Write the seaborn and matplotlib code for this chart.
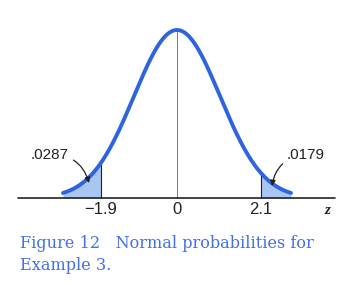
import numpy as np
import pandas as pd
import matplotlib
matplotlib.use("Agg")
import matplotlib.pyplot as plt
import seaborn as sns

# values
tick_values = [-1.9, 0.0, 2.1]
tick_labels = ["\u22121.9", "0", "2.1"]
tail_probs = [".0287", ".0179"]
curve_range = [-2.85, 2.85]
curve_sigma = 1.075
caption_lines = ["Figure 12   Normal probabilities for", "Example 3."]

sns.set_style("white")
plt.rcParams['font.family'] = ['Liberation Sans', 'DejaVu Sans']

blue = "#2f64e0"
fill = "#a9c6f2"

z = np.linspace(curve_range[0], curve_range[1], 400)
dens = np.exp(-z**2 / (2 * curve_sigma**2)) / (curve_sigma * np.sqrt(2 * np.pi))
df = pd.DataFrame({"z": z, "density": dens})

fig = plt.figure(figsize=(3.53, 2.96), dpi=100)
ax = fig.add_axes([0, 0, 1, 1])
scale = 168 / dens.max()
ax.set_xlim(-177 / 40, (353 - 177) / 40)
ax.set_ylim(-98 / scale, (296 - 98) / scale)
ax.axis("off")

left = df[df.z <= tick_values[0]]
right = df[df.z >= tick_values[2]]
ax.fill_between(left.z, 0, left.density, color=fill, lw=0)
ax.fill_between(right.z, 0, right.density, color=fill, lw=0)

def pdf(v):
    return np.exp(-v**2 / (2 * curve_sigma**2)) / (curve_sigma * np.sqrt(2 * np.pi))

for v in tick_values:
    ax.plot([v, v], [0, pdf(v)], color="#666666" if v == 0 else "#222222",
            lw=0.8 if v != 0 else 0.6, zorder=2)

sns.lineplot(data=df, x="z", y="density", ax=ax, color=blue, lw=2.8, zorder=3)

# axis line
ax.plot([18 / 40 - 177 / 40, 335 / 40 - 177 / 40], [0, 0], color="#222222", lw=1.2, zorder=4)

for v, lab in zip(tick_values, tick_labels):
    ax.text(v, -12 / scale, lab, ha="center", va="center", fontsize=12, color="#222222")
ax.text((327 - 177) / 40, -12 / scale, "z", ha="center", va="center", fontsize=11,
        style="italic", fontweight="bold", family="Liberation Serif", color="#222222")

# annotations
ax.annotate(tail_probs[0], xy=((89 - 177) / 40, 15 / scale),
            xytext=((50 - 177) / 40, 43 / scale), ha="center", va="center",
            fontsize=11, color="#222222",
            arrowprops=dict(arrowstyle="-|>", color="#222222", lw=0.9,
                            connectionstyle="arc3,rad=-0.4", mutation_scale=8,
                            shrinkA=1, shrinkB=0))
ax.annotate(tail_probs[1], xy=((272 - 177) / 40, 12 / scale),
            xytext=((306 - 177) / 40, 43 / scale), ha="center", va="center",
            fontsize=11, color="#222222",
            arrowprops=dict(arrowstyle="-|>", color="#222222", lw=0.9,
                            connectionstyle="arc3,rad=0.4", mutation_scale=8,
                            shrinkA=1, shrinkB=0))

# caption
for i, line in enumerate(caption_lines):
    fig.text(20 / 353, 1 - (244 + 22 * i) / 296, line, ha="left", va="center",
             fontsize=11.6, color="#4470e6", family="DejaVu Serif")

fig.savefig("out.png", dpi=100)
